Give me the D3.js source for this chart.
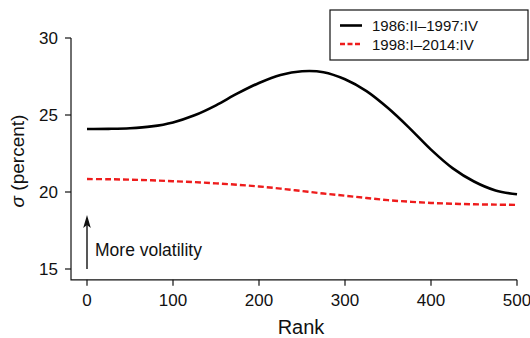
<!DOCTYPE html>
<html>
<head>
<meta charset="utf-8">
<script src="https://cdn.jsdelivr.net/npm/d3@7"></script>
<style>
  body { margin: 0; background: #fff; }
  svg text { font-family: "Liberation Sans", Arial, Helvetica, sans-serif; fill: #111; }
</style>
</head>
<body>
<svg id="chart"></svg>
<script>
var width = 530,
  height = 338;

// rank grid
var ranks = [0, 25, 50, 75, 100, 125, 150, 175, 200, 225, 250, 275, 300, 325, 350, 375, 400, 425, 450, 475, 500];

// sigma, 1986:II-1997:IV
var sigmaEarly = [24.09, 24.10, 24.14, 24.26, 24.52, 24.98, 25.63, 26.4, 27.08, 27.6, 27.84, 27.78, 27.32, 26.55, 25.45, 24.15, 22.75, 21.55, 20.68, 20.1, 19.85];

// sigma, 1998:I-2014:IV
var sigmaLate = [20.84, 20.83, 20.80, 20.76, 20.70, 20.64, 20.56, 20.47, 20.36, 20.22, 20.06, 19.9, 19.76, 19.61, 19.47, 19.37, 19.29, 19.24, 19.2, 19.18, 19.16];

var xTicks = [0, 100, 200, 300, 400, 500],
  yTicks = [15, 20, 25, 30];

var seriesNames = ['1986:II\u20131997:IV', '1998:I\u20132014:IV'];

function draw() {
  var svg, x, y, line, legend, item, ylab;

  svg = d3.select('#chart')
    .attr('width', width)
    .attr('height', height);

  x = d3.scaleLinear().domain([0, 500]).range([87, 517]);
  y = d3.scaleLinear().domain([15, 30]).range([269, 38]);

  // AXES (left + bottom, joined at the corner)
  svg.append('path')
    .attr('d', 'M' + x(-18.6) + ' ' + y(30) + ' L' + x(-18.6) + ' ' + y(14.3) + ' L' + x(500) + ' ' + y(14.3))
    .attr('fill', 'none')
    .attr('stroke', '#111')
    .attr('stroke-width', 1.2);

  svg.selectAll('line.ytick')
    .data(yTicks)
    .enter()
    .append('line')
    .attr('class', 'ytick')
    .attr('x1', x(-18.6)).attr('x2', x(-18.6) - 6)
    .attr('y1', y).attr('y2', y)
    .attr('stroke', '#111').attr('stroke-width', 1.2);

  svg.selectAll('text.ytick')
    .data(yTicks)
    .enter()
    .append('text')
    .attr('class', 'ytick')
    .attr('x', 58)
    .attr('y', function(d) { return y(d) + 6; })
    .attr('text-anchor', 'end')
    .style('font-size', '17px')
    .text(function(d) { return d; });

  svg.selectAll('line.xtick')
    .data(xTicks)
    .enter()
    .append('line')
    .attr('class', 'xtick')
    .attr('x1', x).attr('x2', x)
    .attr('y1', y(14.3)).attr('y2', y(14.3) + 6)
    .attr('stroke', '#111').attr('stroke-width', 1.2);

  svg.selectAll('text.xtick')
    .data(xTicks)
    .enter()
    .append('text')
    .attr('class', 'xtick')
    .attr('x', x)
    .attr('y', 306)
    .attr('text-anchor', 'middle')
    .style('font-size', '17px')
    .text(function(d) { return d; });

  svg.append('text')
    .attr('x', 301)
    .attr('y', 334)
    .attr('text-anchor', 'middle')
    .style('font-size', '20px')
    .text('Rank');

  ylab = svg.append('text')
    .attr('transform', 'translate(24,' + 161 + ') rotate(-90)')
    .attr('text-anchor', 'middle')
    .style('font-size', '19px');
  ylab.append('tspan').style('font-style', 'italic').text('\u03c3');
  ylab.append('tspan').text(' (percent)');

  // LINES
  line = d3.line()
    .x(function(d, i) { return x(ranks[i]); })
    .y(function(d) { return y(d); })
    .curve(d3.curveCatmullRom.alpha(0.5));

  svg.append('path')
    .datum(sigmaEarly)
    .attr('d', line)
    .attr('fill', 'none')
    .attr('stroke', '#000')
    .attr('stroke-width', 2.6);

  svg.append('path')
    .datum(sigmaLate)
    .attr('d', line)
    .attr('fill', 'none')
    .attr('stroke', '#ee1c1c')
    .attr('stroke-width', 2.4)
    .attr('stroke-dasharray', '6,3');

  // ARROW annotation
  svg.append('line')
    .attr('x1', x(0)).attr('x2', x(0))
    .attr('y1', y(15)).attr('y2', y(18.1))
    .attr('stroke', '#111')
    .attr('stroke-width', 1.4);

  svg.append('path')
    .attr('d', 'M' + x(0) + ' ' + y(18.5) + ' l-3.8 13 l3.8 -3 l3.8 3 Z')
    .attr('fill', '#111');

  svg.append('text')
    .attr('x', 95)
    .attr('y', 256)
    .style('font-size', '17.5px')
    .text('More volatility');

  // LEGEND
  legend = svg.append('g').attr('transform', 'translate(330,10)');
  legend.append('rect')
    .attr('width', 198).attr('height', 50)
    .attr('fill', '#fff')
    .attr('stroke', '#111')
    .attr('stroke-width', 1.2);

  item = legend.selectAll('g.item')
    .data(seriesNames)
    .enter()
    .append('g')
    .attr('class', 'item')
    .attr('transform', function(d, i) { return 'translate(0,' + (15.5 + i * 18.5) + ')'; });

  item.append('line')
    .attr('x1', 10).attr('x2', 32)
    .attr('y1', 0).attr('y2', 0)
    .attr('stroke', function(d, i) { return i === 0 ? '#000' : '#ee1c1c'; })
    .attr('stroke-width', 2.6)
    .attr('stroke-dasharray', function(d, i) { return i === 0 ? null : '5,2.5'; });

  item.append('text')
    .attr('x', 42)
    .attr('y', 5.5)
    .style('font-size', '15px')
    .text(function(d) { return d; });
}

draw();
</script>
</body>
</html>
